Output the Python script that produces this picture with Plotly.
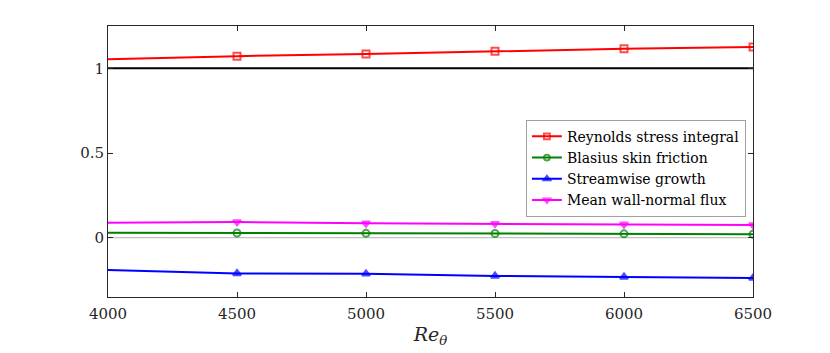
import plotly.graph_objects as go

re_theta = [4000, 4500, 5000, 5500, 6000, 6500]
reynolds_stress = [1.054, 1.072, 1.085, 1.101, 1.115, 1.126]
blasius = [0.030, 0.028, 0.026, 0.025, 0.023, 0.021]
streamwise = [-0.191, -0.211, -0.213, -0.226, -0.232, -0.238]
wall_normal = [0.089, 0.093, 0.085, 0.083, 0.079, 0.075]
ref_one = [1, 1]
ref_zero = [0, 0]
ref_x = [4000, 6500]

fig = go.Figure()
fig.add_trace(go.Scatter(x=ref_x, y=ref_zero, mode="lines", line=dict(color="#b0b0b0", width=1), showlegend=False, hoverinfo="skip"))
fig.add_trace(go.Scatter(x=ref_x, y=ref_one, mode="lines", line=dict(color="black", width=2), showlegend=False, hoverinfo="skip"))

msize = [0, 7, 7, 7, 7, 7]
series = [
    ("Reynolds stress integral", reynolds_stress, "#ff0000", "square-open"),
    ("Blasius skin friction", blasius, "#008000", "circle-open"),
    ("Streamwise growth", streamwise, "#0000ff", "triangle-up"),
    ("Mean wall-normal flux", wall_normal, "#ff00ff", "triangle-down"),
]
for name, ys, col, sym in series:
    fig.add_trace(go.Scatter(
        x=re_theta, y=ys, mode="lines+markers", name=name,
        line=dict(color=col, width=2),
        marker=dict(symbol=sym, size=msize, color=col, line=dict(color=col, width=2)),
    ))

font = "DejaVu Serif"
axis_common = dict(
    showline=True, linecolor="#262626", linewidth=1, mirror="ticks",
    ticks="inside", ticklen=5, tickcolor="#262626", showgrid=False, zeroline=False,
    tickfont=dict(family=font, size=15, color="#262626"),
)
fig.update_layout(
    width=822, height=345,
    margin=dict(l=100, r=77, t=18, b=47),
    paper_bgcolor="white", plot_bgcolor="white",
    font=dict(family=font, size=14, color="#262626"),
    xaxis=dict(range=[4000, 6500], tickvals=[4000, 4500, 5000, 5500, 6000, 6500],
               title=dict(text="<i>Re</i><sub><i>θ</i></sub>", font=dict(size=19, family=font), standoff=5),
               ticklabelstandoff=3,
               **axis_common),
    yaxis=dict(range=[-0.35, 1.25], tickvals=[0, 0.5, 1], ticktext=["0", "0.5", "1"],
               ticklabelstandoff=0, **axis_common),
    legend=dict(x=0.989, xanchor="right", y=0.654, yanchor="top",
                bgcolor="white", bordercolor="#a0a0a0", borderwidth=1,
                font=dict(family=font, size=14, color="black"),
                tracegroupgap=0, itemwidth=30),
)
fig.write_html("out.html")
